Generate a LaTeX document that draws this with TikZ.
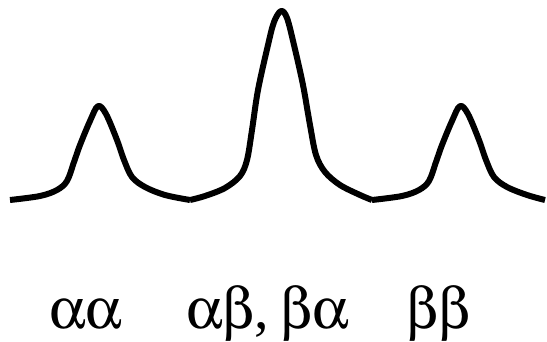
\documentclass[tikz,border=0pt]{standalone}
\usepackage{fontspec}
\setmainfont{Liberation Serif}
\usepackage[Symbol]{upgreek}
\begin{document}
\begin{tikzpicture}[x=1pt,y=-1pt,
  peak/.style={line width=6pt,line join=round,line cap=butt},
  lbl/.style={anchor=base west,inner sep=0pt,font=\fontsize{58}{66}\selectfont}]
\useasboundingbox (0,0) rectangle (547,341);
\draw[peak] plot[smooth,tension=0.55] coordinates {(10,200) (40,196) (57,190) (67,181) (74,162) (80,145) (90,121) (98,106) (106,114) (117,140) (124,160) (132,177) (145,187) (165,195) (190,200)};
\draw[peak] plot[smooth,tension=0.55] coordinates {(190,200) (205,196) (225,188) (240,176) (247,160) (252,130) (258,90) (268,45) (274,22) (281,11) (287,18) (294,45) (303,85) (310,125) (316,155) (325,172) (340,185) (360,195) (372,200)};
\draw[peak] plot[smooth,tension=0.55] coordinates {(372,200) (402,196) (419,190) (429,181) (436,162) (442,145) (452,121) (460,106) (468,114) (479,140) (486,160) (494,177) (507,187) (527,195) (545,200)};
\node[lbl] (aa) at (49,328) {$\upalpha\upalpha$};
\node[lbl] (ab) at (186,328) {$\upalpha\upbeta$,\hspace{0.2em}$\upbeta\upalpha$};
\node[lbl] (bb) at (406,328) {$\upbeta\upbeta$};
\end{tikzpicture}
\end{document}
